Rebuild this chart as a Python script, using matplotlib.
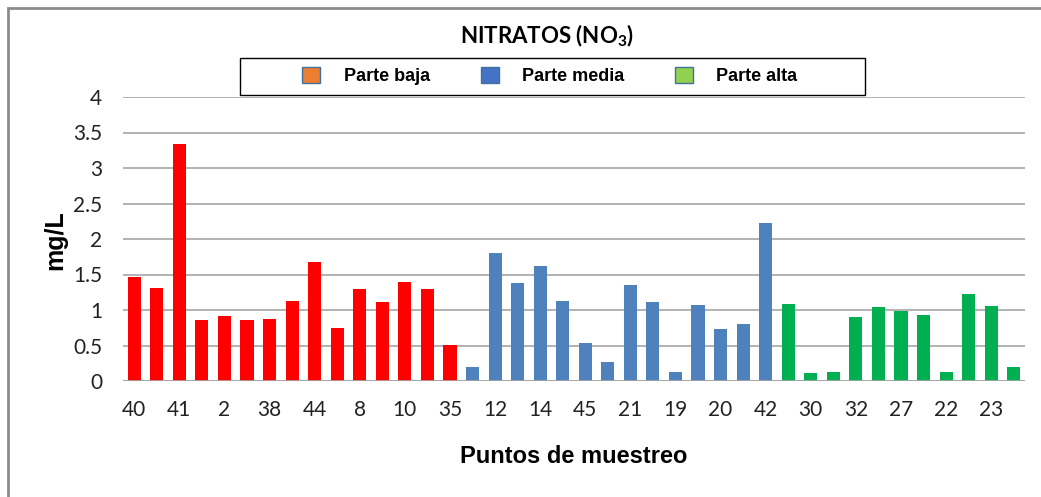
import matplotlib
matplotlib.use("Agg")
import matplotlib.pyplot as plt
from matplotlib.patches import Rectangle, Patch
import numpy as np

plt.rcParams['mathtext.fontset'] = 'custom'
plt.rcParams['mathtext.rm'] = 'Lato'
plt.rcParams['mathtext.it'] = 'Lato:italic'
plt.rcParams['mathtext.bf'] = 'Lato:bold'

# Data
baja_labels = ["40", "", "41", "", "2", "", "38", "", "44", "", "8", "", "10", "", "35"]
baja_values = [1.47, 1.31, 3.34, 0.86, 0.91, 0.86, 0.88, 1.13, 1.67, 0.75, 1.29, 1.11, 1.40, 1.29, 0.51]

media_labels = ["", "12", "", "14", "", "45", "", "21", "", "19", "", "20", "", "42"]
media_values = [0.20, 1.80, 1.38, 1.62, 1.13, 0.53, 0.27, 1.35, 1.11, 0.13, 1.07, 0.73, 0.80, 2.23]

alta_labels = ["", "30", "", "32", "", "27", "", "22", "", "23", ""]
alta_values = [1.09, 0.11, 0.13, 0.90, 1.04, 0.99, 0.93, 0.13, 1.22, 1.05, 0.20]

series_names = ["Parte baja", "Parte media", "Parte alta"]
bar_colors = ["#FF0000", "#4F81BD", "#00B050"]
legend_colors = ["#ED7D31", "#4472C4", "#92D050"]

labels = baja_labels + media_labels + alta_labels
values = baja_values + media_values + alta_values
colors = ([bar_colors[0]] * len(baja_values) + [bar_colors[1]] * len(media_values)
          + [bar_colors[2]] * len(alta_values))

W, H = 1041, 497
fig = plt.figure(figsize=(W / 100, H / 100), dpi=100)
ax = fig.add_axes([123 / W, 1 - 381 / H, (1025 - 123) / W, (381 - 97) / H])

x = np.arange(len(values))
ax.bar(x, values, width=0.58, color=colors, zorder=3)
ax.set_xlim(-0.5, len(values) - 0.5)
ax.set_ylim(0, 4)
ax.set_yticks([0, 0.5, 1, 1.5, 2, 2.5, 3, 3.5, 4])
ax.set_yticklabels(["0", "0.5", "1", "1.5", "2", "2.5", "3", "3.5", "4"],
                   fontfamily="Lato", fontsize=15, color="#222222")
ax.set_xticks(x)
ax.set_xticklabels(labels, fontfamily="Lato", fontsize=15, color="#222222")
ax.tick_params(axis='both', length=0)
ax.tick_params(axis='x', pad=14)
ax.tick_params(axis='y', pad=15)
ax.grid(axis='y', color="#A6A6A6", lw=1.2, zorder=0)
for s in ax.spines.values():
    s.set_visible(False)
ax.axhline(0, color="#A6A6A6", lw=1.2, zorder=4)

ax.set_xlabel("Puntos de muestreo", fontfamily="Liberation Sans", fontweight="bold",
              fontsize=17, labelpad=18)
ax.set_ylabel("mg/L", fontfamily="Liberation Sans", fontweight="bold", fontsize=18,
              va="center")
ax.yaxis.set_label_coords(-0.0754, 0.496)

fig.text(547 / W, 1 - 36 / H, r"NITRATOS (NO$_\mathregular{3}$)", fontfamily="Lato",
         fontweight="bold", fontsize=16, ha="center", va="center")

# legend box
fig.add_artist(Rectangle((240 / W, 1 - 95 / H), (865 - 240) / W, (95 - 58) / H,
                         transform=fig.transFigure, fill=False, edgecolor="#000000",
                         lw=1.0, zorder=5))
handles = [Patch(facecolor=c, edgecolor="#41719C", lw=1) for c in legend_colors]
leg = fig.legend(handles, series_names, loc="center",
                 bbox_to_anchor=(550 / W, 1 - 76 / H),
                 ncol=3, frameon=False,
                 prop={"family": "Liberation Sans", "weight": "bold", "size": 13},
                 handlelength=1.0, handleheight=1.0, columnspacing=2.8,
                 handletextpad=1.3)

fig.add_artist(Rectangle((8 / W, -0.1), 1.2, 1 - 8 / H + 0.1, transform=fig.transFigure,
                         fill=False, edgecolor="#8C8C8C", lw=2))

fig.savefig("out.png", dpi=100)
